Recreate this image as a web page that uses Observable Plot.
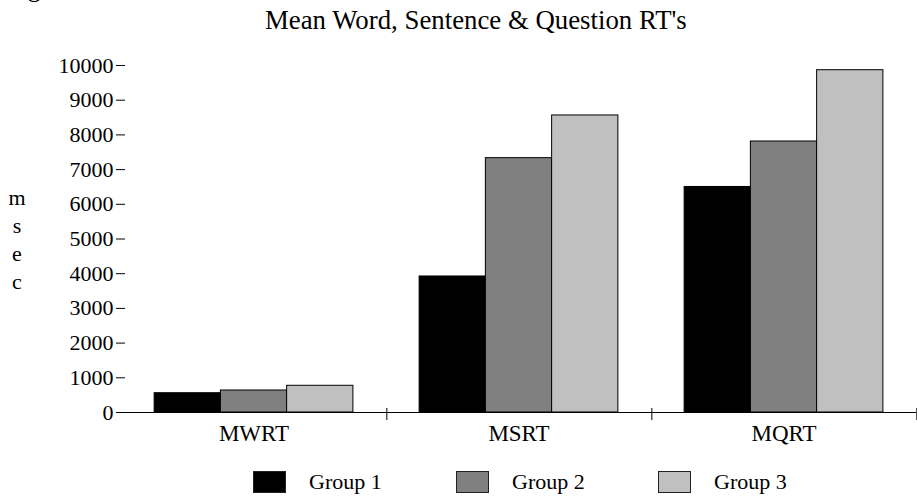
<!DOCTYPE html>
<html><head><meta charset="utf-8">
<script src="https://cdn.jsdelivr.net/npm/d3@7"></script>
<script src="https://cdn.jsdelivr.net/npm/@observablehq/plot@0.6"></script>
<style>
body{margin:0;background:#fff;font-family:"Liberation Serif","Times New Roman",serif;color:#000;}
#wrap{position:relative;width:917px;height:498px;overflow:hidden;}
#fig{position:absolute;left:6px;top:-24px;font-size:26px;line-height:26px;white-space:nowrap;}
#title{position:absolute;left:265px;top:5px;font-size:26.8px;line-height:30px;white-space:nowrap;}
#ylabel{position:absolute;left:6px;top:184px;width:22px;text-align:center;font-size:22px;line-height:28px;}
#chart{position:absolute;left:0;top:40px;}
#chart svg text{font-family:"Liberation Serif","Times New Roman",serif;}
#legend{position:absolute;left:0;top:467px;width:917px;height:31px;}
.item{position:absolute;top:0;display:flex;align-items:center;font-size:22px;line-height:30px;white-space:nowrap;}
.sw{width:33px;height:22px;border:1px solid #222;box-sizing:border-box;margin-right:23px;}
</style></head><body>
<div id="wrap">
  <div id="fig">Figure</div>
  <div id="title">Mean Word, Sentence &amp; Question RT's</div>
  <div id="ylabel">m<br>s<br>e<br>c</div>
  <div id="chart"></div>
  <div id="legend"></div>
</div>
<script>
const categories = ["MWRT", "MSRT", "MQRT"];
const groups = ["Group 1", "Group 2", "Group 3"];
const group1 = [556, 3920, 6500];
const group2 = [634, 7330, 7810];
const group3 = [770, 8560, 9865];
const colors = ["#000000", "#808080", "#c0c0c0"];
const yTicks = [0, 1000, 2000, 3000, 4000, 5000, 6000, 7000, 8000, 9000, 10000];
const legendLeft = [253, 456, 658];

const serif = "'Liberation Serif', 'Times New Roman', serif";
const series = [group1, group2, group3];
const data = categories.flatMap((c, i) => series.map((s, j) => ({category: c, group: groups[j], value: s[i]})));

const plot = Plot.plot({
  width: 917, height: 420,
  marginLeft: 120, marginRight: 0, marginTop: 25, marginBottom: 48,
  style: {fontFamily: serif, fontSize: "22px", color: "#000", background: "transparent"},
  fx: {domain: categories, padding: 0, label: null},
  x: {domain: groups, axis: null, paddingInner: 0, paddingOuter: 0.5, round: false},
  y: {domain: [0, 10000]},
  color: {domain: groups, range: colors},
  marks: [
    Plot.barY(data, {fx: "category", x: "group", y: "value", fill: "group", stroke: "#000", strokeWidth: 1, inset: 0}),
    Plot.ruleY([0], {stroke: "#000", strokeWidth: 1}),
    Plot.axisY(yTicks, {tickSize: 5, tickPadding: 3, line: true, label: null, fontSize: 22, fontFamily: serif, tickFormat: d => String(d), stroke: "#000"}),
    Plot.axisY(yTicks, {tickSize: 4, dx: 4, text: null, label: null, stroke: "#000"}),
    Plot.axisFx({anchor: "bottom", tickSize: 0, tickPadding: 12, label: null, fontSize: 23, fontFamily: serif}),
    Plot.axisFx({anchor: "bottom", tickSize: 12, dy: -4, dx: (917 - 120) / 6, text: null, label: null, stroke: "#000"})
  ]
});
document.getElementById("chart").appendChild(plot);

const legend = document.getElementById("legend");
groups.forEach((g, j) => {
  const item = document.createElement("div");
  item.className = "item";
  item.style.left = legendLeft[j] + "px";
  const sw = document.createElement("div");
  sw.className = "sw";
  sw.style.background = colors[j];
  const t = document.createElement("span");
  t.textContent = g;
  item.appendChild(sw); item.appendChild(t);
  legend.appendChild(item);
});
</script>
</body></html>
